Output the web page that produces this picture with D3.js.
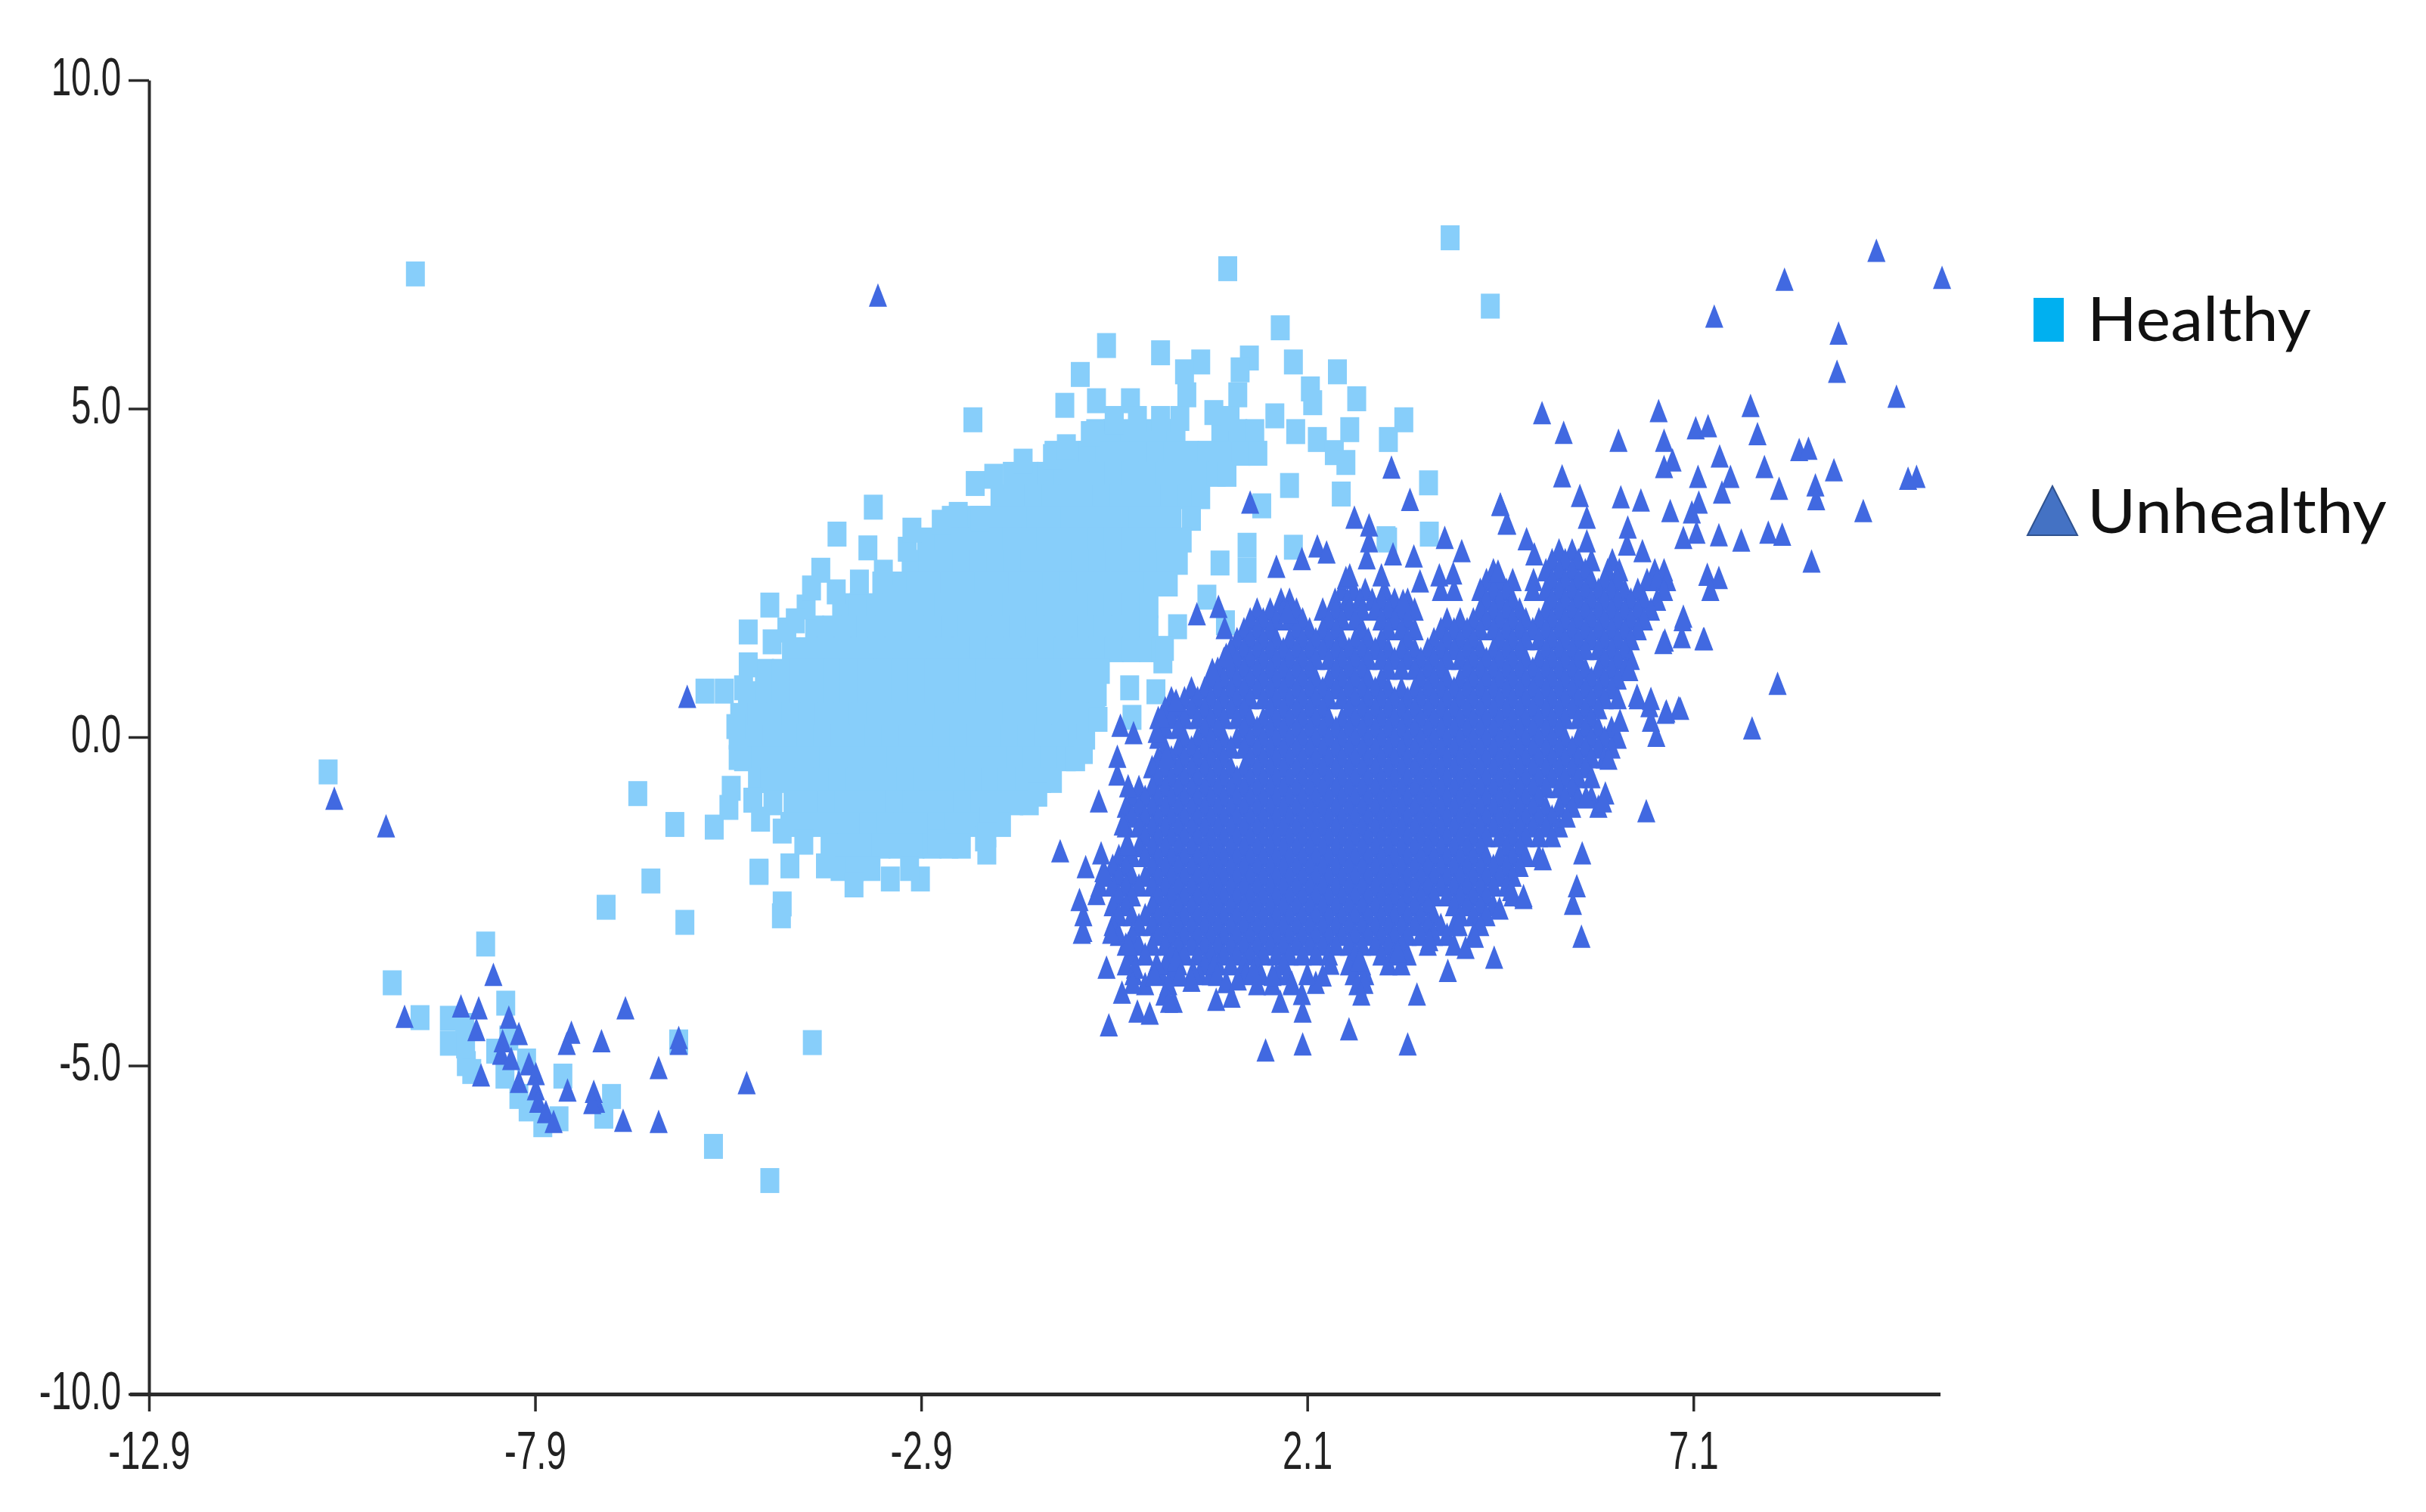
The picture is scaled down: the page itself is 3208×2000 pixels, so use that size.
<!DOCTYPE html>
<html>
<head>
<meta charset="utf-8">
<script src="https://cdn.jsdelivr.net/npm/d3@7"></script>
<style>
  html, body { margin: 0; background: #fff; }
</style>
</head>
<body>
<script>
// Axis ticks
const xTicks = [-12.9, -7.9, -2.9, 2.1, 7.1];
const yTicks = [-10, -5, 0, 5, 10];
const legendNames = ["Healthy", "Unhealthy"];

// Healthy, single squares that can be read on their own
const healthySingles = [
  [-9.45,7.05],[-10.58,-.53],[3.95,7.6],[1.07,7.13],[4.47,6.56],[-9.75,-3.74],[-8.54,-3.15],[-9.39,-4.27],
  [-4.31,-4.65],[-5.59,-6.23],[-4.86,-6.75],[-6.98,-2.59],[-6.4,-2.19],[-5.96,-2.82],[-6.57,-.86],[-6.09,-1.33],
  [-5.58,-1.37],[-5,-2.06],[-4.6,-1.96],[-4.71,-2.72],[-2.91,-2.16],[-6.04,-4.64],
  [1.75,6.23],[-.5,5.96],[.2,5.85],[.72,5.71],[1.35,5.77],[.51,5.56],[1.23,5.59],[1.92,5.71],[2.49,5.56],[-.84,5.52],
  [2.14,5.3],[2.74,5.15],[-1.04,5.05],[-.63,5.12],[-.19,5.12],[.54,5.21],[1.2,5.21],[.89,4.94],[1.68,4.89],[2.17,5.09],
  [3.35,4.83],[3.15,4.53],[2.65,4.68],[-2.23,4.83],[1.95,4.65],[2.23,4.53],[2.45,4.33],[2.6,4.18],[1.87,3.83],[2.54,3.7],
  [1.51,3.52],[3.67,3.87],[3.68,3.09],[3.14,3],[1.92,2.89],[.97,2.65],[1.32,2.92],[1.32,2.54],[.8,2.13],[1.04,1.74],[.42,1.68],
  [-3.52,3.5],[-3.99,3.09],[-3.59,2.88],[-4.2,2.54],[-4.32,2.27],[-4.86,2.01],[-4.53,1.77],[-5.14,1.6],[-5.7,.7],[-5.45,.7],
  [-5.14,1.1],[-5.36,-.78],[-5.39,-1.07],[-5,-2.04],[-4.7,-2.54],[-.17,.3],[.14,.69],[-.61,.27],[-.8,-.22],[-1.39,-.87],
  [-2.05,-1.49],[-2.7,-1.6],[.23,1.16],[-.4,4.85],[-.1,4.85],[.2,4.85],[.45,4.85],[1.1,4.85],[-2.05,-1.75],[-3.05,-2],
  [3.12,3.02],[.25,1.35],[-.2,.75]
];

// Healthy, squares along the outline of the body
const healthyEdge = [
  [-5.3,.16],[-5.27,-.31],[-5.08,-.96],[-4.98,-1.25],[-4.7,-1.43],[-4.42,-1.6],[-4.14,-1.96],[-3.77,-2.25],[-3.3,-2.16],
  [-2.08,-1.55],[-2.02,-1.25],[-5.2,.75],[-4.83,1.45],[-4.64,1.63],[-4.39,1.98],[-4,2.21],[-3.7,2.36],[-3.39,2.51],[-3.08,2.86],
  [-3.02,3.15],[-2.64,3.27],[-2.42,3.39],[-2.14,3.33],[-2.2,3.86],[-1.96,3.97],[-1.58,4.2],[-1.2,4.27],[-1.02,4.42],[-.71,4.62],[-.4,4.8]
];

// Healthy, the tail at the lower left
const healthyTail = [
  [-9.01,-4.28],[-9.01,-4.66],[-8.81,-4.39],[-8.8,-4.7],[-8.28,-4.05],[-8.79,-4.97],[-8.72,-5.09],[-8.41,-4.78],[-8.29,-5.16],
  [-7.54,-5.16],[-8.11,-5.47],[-7.99,-5.66],[-7.59,-5.81],[-6.91,-5.47],[-7.01,-5.77],[-8.01,-4.93],[-8.24,-4.58],[-7.8,-5.9]
];

// Healthy, the solid body: one row of x values per y value
const healthyRowY = [4.65,4.32,4,3.66,3.33,3,2.66,2.33,2,1.66,1.33,1,.66,.33,0,-.33,-.66,-1,-1.33,-1.66,-2];
const healthyRowX = [
  [-.64,-.42,-.2,.02,.24,.4,.98,1.2,1.42],
  [-1.18,-.96,-.74,-.52,-.3,-.08,.14,.36,.58,.8,1.02,1.24,1.46],
  [-1.72,-1.5,-1.28,-1.06,-.84,-.62,-.4,-.18,.04,.26,.48,.7,.92,1.06],
  [-1.88,-1.66,-1.44,-1.22,-1,-.78,-.56,-.34,-.12,.1,.32,.54,.72],
  [-2.51,-2.29,-2.07,-1.85,-1.63,-1.41,-1.19,-.97,-.75,-.53,-.31,-.09,.13,.35,.6],
  [-2.83,-2.61,-2.39,-2.17,-1.95,-1.73,-1.51,-1.29,-1.07,-.85,-.63,-.41,-.19,.03,.25,.48],
  [-3.03,-2.81,-2.59,-2.37,-2.15,-1.93,-1.71,-1.49,-1.27,-1.05,-.83,-.61,-.39,-.17,.05,.27,.43],
  [-3.41,-3.19,-2.97,-2.75,-2.53,-2.31,-2.09,-1.87,-1.65,-1.43,-1.21,-.99,-.77,-.55,-.33,-.11,.11,.3],
  [-3.93,-3.71,-3.49,-3.27,-3.05,-2.83,-2.61,-2.39,-2.17,-1.95,-1.73,-1.51,-1.29,-1.07,-.85,-.63,-.41,-.19,.05],
  [-4.28,-4.06,-3.84,-3.62,-3.4,-3.18,-2.96,-2.74,-2.52,-2.3,-2.08,-1.86,-1.64,-1.42,-1.2,-.98,-.76,-.54,-.32,-.1,.05],
  [-4.58,-4.36,-4.14,-3.92,-3.7,-3.48,-3.26,-3.04,-2.82,-2.6,-2.38,-2.16,-1.94,-1.72,-1.5,-1.28,-1.06,-.84,-.62,-.4,-.18,.04,.2],
  [-4.93,-4.71,-4.49,-4.27,-4.05,-3.83,-3.61,-3.39,-3.17,-2.95,-2.73,-2.51,-2.29,-2.07,-1.85,-1.63,-1.41,-1.19,-.97,-.75,-.58],
  [-5.15,-4.93,-4.71,-4.49,-4.27,-4.05,-3.83,-3.61,-3.39,-3.17,-2.95,-2.73,-2.51,-2.29,-2.07,-1.85,-1.63,-1.41,-1.19,-.97,-.75,-.62],
  [-5.25,-5.03,-4.81,-4.59,-4.37,-4.15,-3.93,-3.71,-3.49,-3.27,-3.05,-2.83,-2.61,-2.39,-2.17,-1.95,-1.73,-1.51,-1.29,-1.07,-.85,-.64],
  [-5.27,-5.05,-4.83,-4.61,-4.39,-4.17,-3.95,-3.73,-3.51,-3.29,-3.07,-2.85,-2.63,-2.41,-2.19,-1.97,-1.75,-1.53,-1.31,-1.09,-.87,-.77],
  [-5.2,-4.98,-4.76,-4.54,-4.32,-4.1,-3.88,-3.66,-3.44,-3.22,-3,-2.78,-2.56,-2.34,-2.12,-1.9,-1.68,-1.46,-1.24,-1.02,-.9],
  [-5.02,-4.86,-4.64,-4.42,-4.2,-3.98,-3.76,-3.54,-3.32,-3.1,-2.88,-2.66,-2.44,-2.22,-2,-1.78,-1.56,-1.34,-1.2],
  [-4.82,-4.56,-4.34,-4.12,-3.9,-3.68,-3.46,-3.24,-3.02,-2.8,-2.58,-2.36,-2.14,-1.92,-1.7,-1.5],
  [-4.6,-4.4,-4.24,-4.02,-3.8,-3.58,-3.36,-3.14,-2.92,-2.7,-2.48,-2.26,-2.04,-1.86],
  [-4.08,-3.86,-3.64,-3.42,-3.2,-2.98,-2.76,-2.54,-2.38],
  [-3.95,-3.76,-3.55]
];

// Unhealthy, single triangles that can be read on their own
const unhealthySingles = [
  [-3.46,6.73],[-10.5,-.93],[-9.83,-1.35],[-5.93,.62],
  [9.47,7.41],[10.32,7],[8.28,6.97],[7.37,6.41],[8.98,6.15],[8.96,5.57],[9.73,5.19],[5.14,4.94],[6.65,4.97],[7.84,5.05],
  [5.42,4.64],[6.13,4.52],[7.93,4.62],[7.13,4.71],[7.29,4.74],[6.72,4.52],[8.47,4.38],[8.59,4.4],[6.83,4.22],[6.72,4.12],
  [7.44,4.28],[8.02,4.12],[7.16,3.97],[7.58,3.97],[8.92,4.07],[5.4,3.98],[9.88,3.94],[9.99,3.97],[8.68,3.84],[8.69,3.63],
  [7.47,3.73],[8.21,3.79],[5.63,3.68],[6.16,3.66],[6.42,3.61],[9.3,3.45],[6.8,3.45],[7.17,3.58],[7.08,3.43],[5.72,3.35],
  [4.6,3.54],[4.69,3.26],[7.43,3.08],[7.72,3],[8.07,3.12],[8.25,3.09],[6.97,3.04],[7.14,3.12],[6.25,3.2],[3.88,3.04],
  [4.94,3.02],[5.72,2.99],[6.24,2.94],[4.1,2.84],[5.04,2.79],[6.44,2.84],[8.63,2.68],[7.28,2.48],[7.43,2.43],[7.32,2.25],
  [8.19,.82],[6.97,1.84],[6.95,1.53],[7.23,1.5],[6.73,1.48],[7.86,.14],[6.91,.45],[6.75,.4],[6.53,.48],[6.38,.6],
  [3.19,4.11],[3.43,3.62],[1.36,3.58],[4.6,3.55],[4.68,3.26],[2.71,3.35],[2.9,3.23],[2.9,2.99],[2.87,2.73],
  [1.7,2.6],[2.03,2.72],[2.23,2.91],[2.35,2.82],[3.21,2.79],[3.48,2.76],[3.06,2.47],[3.81,2.47],[3.99,2.5],[2.65,2.47],[3.56,2.38],
  [.67,1.88],[.95,1.99],[1.03,1.67],[1.05,1.26],[.87,1.03],[-.32,.18],[-.15,.07],[-.36,-.29],[-.36,-.56],[-.6,-.97],
  [-1.1,-1.73],[-.77,-1.97],[-.57,-1.76],[-.85,-2.47],[-.8,-2.94],[-.5,-3.5],[-.3,-3.88],[-.47,-4.38],[-.1,-4.17],[.06,-4.2],
  [.31,-4.02],[.92,-3.99],[1.12,-3.94],[1.75,-4.02],[2.04,-4.17],[2.64,-4.44],[1.56,-4.76],[2.04,-4.67],[3.4,-4.67],[3.52,-3.91],
  [2.8,-3.91],[3.92,-3.55],[4.52,-3.35],[5.65,-3.03],[5.59,-2.26],[5.54,-2.53],[5.66,-1.76],[6.49,-1.12],[5.93,-.97],[4.9,-2.41],
  [6.62,.03],[6.74,.38],[6.93,.44],[6.37,.64],[6.55,.59],[7.24,1.5],[6.96,1.79],[6.71,1.44]
];

// Unhealthy, triangles along the outline of the body
const unhealthyEdge = [
  [-.82,-2.97],[-.8,-2.7],[-.44,-2.97],[-.22,-3.14],[-.13,-3.5],[-.16,-3.73],[.15,-3.44],[.12,-3.61],[.25,-3.91],[.37,-4.02],
  [.4,-3.38],[.62,-3.55],[.9,-3.44],[.93,-3.61],[1.4,-3.55],[1.65,-3.61],[1.9,-3.73],[2.03,-3.9],[2.21,-3.73],[2.4,-3.44],
  [2.78,-3.38],[2.84,-3.73],[3.27,-3.26],[3.68,-3.08],[4.15,-3.2],[4.27,-3.03],[4.06,-2.85],[4.59,-2.6],[4.9,-2.44],[4.74,-2.32],
  [5.15,-1.85],[5.46,-1.2],[5.71,-.91],[5.96,-.85],[6,-.32],[6.15,.26],[6.27,1.03],[6.55,.26],
  [.21,.32],[.4,.56],[.15,.09],[.28,-.27],[-.22,-.74],[-.29,-1.32],[-.22,-1.62],[-.54,-2.03],[-.63,-2.38],
  [.45,-3.62],[.6,-3.7],[1.05,-3.72],[1.2,-3.68],[2.1,-3.6],[2.3,-3.62],[1.84,1.91],[2.6,2.43],[3.34,2.08],[4.57,2.53]
];

// Unhealthy, the tail at the lower left
const unhealthyTail = [
  [-8.44,-3.61],[-9.59,-4.25],[-8.86,-4.09],[-8.63,-4.12],[-8.24,-4.26],[-8.66,-4.45],[-8.11,-4.51],[-7.43,-4.49],[-7.49,-4.66],
  [-7.04,-4.62],[-6.73,-4.12],[-6.04,-4.57],[-6.04,-4.66],[-8.32,-4.62],[-8.34,-4.81],[-8.21,-4.89],[-7.98,-4.97],[-7.89,-5.12],
  [-8.6,-5.14],[-8.11,-5.24],[-7.89,-5.35],[-7.48,-5.37],[-7.14,-5.39],[-7.11,-5.54],[-7.16,-5.56],[-6.3,-5.03],[-5.16,-5.26],
  [-7.86,-5.54],[-7.76,-5.7],[-7.66,-5.85],[-6.76,-5.83],[-6.3,-5.85]
];

// Unhealthy, the solid body: one row of x values per y value
const unhealthyRowY = [2.85,2.7,2.55,2.4,2.25,2.1,1.95,1.8,1.65,1.5,1.35,1.2,1.05,.9,.75,.6,.45,.3,.15,0,-.15,-.3,-.45,-.6,-.75,-.9,-1.05,-1.2,-1.35,-1.5,-1.65,-1.8,-1.95,-2.1,-2.25,-2.4,-2.55,-2.7,-2.85,-3,-3.15,-3.3,-3.45,-3.6,-3.75];
const unhealthyRowX = [
  [5.36,5.53],
  [5.27,5.44,5.61,5.78,6.05],
  [4.51,5.19,5.36,5.53,5.7,5.99,6.14,6.6,6.72],
  [4.42,4.59,4.76,5.03,5.27,5.44,5.61,5.78,5.95,6.12,6.5,6.63,6.76],
  [2.55,2.7,2.85,3.1,3.83,4,4.34,4.51,4.68,5.02,5.19,5.36,5.53,5.7,5.87,6.04,6.21,6.38,6.72],
  [1.76,1.87,2.46,2.62,2.78,2.94,3.06,3.23,3.4,4.42,4.59,4.76,5.27,5.44,5.61,5.78,5.95,6.12,6.29,6.46,6.63],
  [1.45,1.62,1.79,1.96,2.3,2.47,2.64,2.81,2.98,3.15,3.32,3.49,4.34,4.51,4.68,4.85,5.19,5.36,5.53,5.7,5.87,6.04,6.21,6.38,6.55],
  [1.36,1.53,1.7,1.87,2.04,2.38,2.55,2.72,3.06,3.23,3.4,3.91,4.08,4.25,4.42,4.59,4.76,4.93,5.1,5.27,5.44,5.61,5.78,5.95,6.12,6.29,6.46],
  [1.28,1.45,1.62,1.96,2.13,2.3,2.47,2.81,3.15,3.32,3.49,3.83,4,4.17,4.34,4.51,4.68,4.85,5.02,5.19,5.36,5.53,5.7,5.87,6.04,6.21,6.38],
  [1.19,1.36,1.53,1.7,1.87,2.04,2.21,2.38,2.55,2.72,2.89,3.06,3.4,3.74,3.91,4.08,4.25,4.59,4.76,4.93,5.1,5.27,5.44,5.61,5.78,5.95,6.12,6.29],
  [1.11,1.28,1.45,1.62,1.79,1.96,2.13,2.3,2.47,2.64,2.81,2.98,3.15,3.32,3.49,3.66,3.83,4,4.17,4.34,4.51,4.68,4.85,5.19,5.36,5.53,5.7,5.87,6.04,6.21],
  [1.02,1.19,1.36,1.53,1.7,1.87,2.04,2.21,2.38,2.55,2.72,2.89,3.06,3.23,3.4,3.57,3.74,3.91,4.08,4.25,4.42,4.59,4.76,4.93,5.1,5.27,5.44,5.61,5.95,6.12,6.29],
  [.94,1.11,1.28,1.45,1.62,1.79,1.96,2.13,2.47,2.64,2.81,3.15,3.32,3.49,3.66,3.83,4.17,4.34,4.51,4.68,4.85,5.02,5.19,5.36,5.53,5.7,5.87,6.04,6.21],
  [.85,1.02,1.19,1.36,1.53,1.7,1.87,2.04,2.21,2.38,2.55,2.72,2.89,3.06,3.57,3.74,3.91,4.08,4.25,4.42,4.59,4.76,4.93,5.1,5.27,5.44,5.61,5.78,5.95,6.12],
  [.6,.77,.94,1.11,1.28,1.45,1.62,1.79,1.96,2.13,2.3,2.47,2.64,2.81,2.98,3.15,3.32,3.49,3.66,3.83,4,4.17,4.34,4.51,4.68,4.85,5.02,5.19,5.36,5.53,5.7,5.87,6.04],
  [.34,.51,.68,.85,1.02,1.19,1.36,1.53,1.7,1.87,2.04,2.21,2.38,2.55,2.72,2.89,3.06,3.23,3.4,3.57,3.74,3.91,4.08,4.25,4.42,4.59,4.76,4.93,5.1,5.27,5.44,5.61,5.78,5.95,6.12],
  [.26,.43,.6,.77,.94,1.11,1.28,1.62,1.79,1.96,2.13,2.3,2.64,2.81,2.98,3.15,3.32,3.49,3.66,3.83,4,4.17,4.34,4.51,4.68,4.85,5.02,5.19,5.36,5.53,5.7,5.87],
  [.17,.34,.51,.68,.85,1.02,1.19,1.36,1.53,1.7,1.87,2.04,2.21,2.38,2.55,2.72,2.89,3.06,3.23,3.4,3.57,3.74,3.91,4.08,4.25,4.42,4.59,4.76,4.93,5.1,5.27,5.44,5.61,5.78],
  [.26,.43,.77,.94,1.28,1.45,1.62,1.79,1.96,2.13,2.3,2.47,2.64,2.81,2.98,3.15,3.32,3.49,3.66,3.83,4,4.17,4.34,4.51,4.68,4.85,5.02,5.19,5.36,5.7,5.87,6.04],
  [.17,.51,.68,.85,1.02,1.19,1.36,1.53,1.7,1.87,2.04,2.21,2.38,2.55,2.72,2.89,3.06,3.23,3.4,3.57,3.74,3.91,4.08,4.25,4.42,4.59,4.76,4.93,5.1,5.27,5.44,5.61,5.78,5.95,6.12],
  [.26,.43,.6,.77,.94,1.11,1.28,1.45,1.62,1.79,1.96,2.13,2.3,2.47,2.64,2.81,2.98,3.15,3.32,3.49,3.66,3.83,4,4.17,4.34,4.51,4.68,4.85,5.02,5.19,5.36,5.53,5.7,5.87,6.04],
  [.17,.34,.51,.68,.85,1.02,1.36,1.53,1.7,1.87,2.04,2.21,2.38,2.55,2.72,2.89,3.06,3.23,3.4,3.57,3.74,3.91,4.08,4.25,4.42,4.59,4.76,4.93,5.1,5.27,5.44,5.61,5.78,5.95],
  [.09,.26,.43,.6,.77,.94,1.11,1.28,1.45,1.62,1.79,1.96,2.13,2.3,2.47,2.64,2.81,2.98,3.15,3.32,3.49,3.66,3.83,4,4.17,4.34,4.51,4.68,4.85,5.02,5.19,5.36,5.53,5.7],
  [.17,.34,.51,.68,.85,1.02,1.19,1.36,1.53,1.7,1.87,2.04,2.21,2.38,2.55,2.72,2.89,3.06,3.23,3.4,3.57,3.74,3.91,4.08,4.25,4.42,4.59,4.76,4.93,5.1,5.27,5.44,5.61,5.78],
  [-.08,.09,.26,.43,.6,.77,.94,1.11,1.28,1.45,1.62,1.79,1.96,2.13,2.3,2.47,2.64,2.81,2.98,3.15,3.32,3.49,3.66,3.83,4,4.17,4.34,4.51,4.68,4.85,5.02,5.19,5.36,5.53],
  [-.17,0,.17,.34,.51,.68,.85,1.02,1.19,1.36,1.53,1.7,1.87,2.04,2.21,2.38,2.55,2.72,2.89,3.06,3.23,3.4,3.57,3.74,3.91,4.08,4.25,4.42,4.59,4.76,4.93,5.1,5.44,5.61,5.78],
  [-.25,-.08,.09,.26,.43,.6,.77,.94,1.11,1.28,1.45,1.62,1.79,1.96,2.13,2.3,2.47,2.64,2.81,2.98,3.15,3.32,3.49,3.66,3.83,4,4.17,4.34,4.51,4.68,4.85,5.02,5.19,5.36,5.53,5.87],
  [-.17,0,.17,.34,.51,.68,.85,1.02,1.19,1.36,1.53,1.7,1.87,2.04,2.21,2.38,2.55,2.72,2.89,3.06,3.23,3.4,3.57,3.74,3.91,4.08,4.25,4.42,4.59,4.76,4.93,5.1,5.27],
  [-.25,-.08,.09,.26,.43,.6,.77,.94,1.11,1.28,1.45,1.62,1.79,1.96,2.13,2.3,2.47,2.64,2.81,2.98,3.15,3.32,3.49,3.66,3.83,4,4.17,4.34,4.51,4.68,4.85,5.02,5.19,5.36],
  [0,.17,.34,.51,.68,.85,1.02,1.19,1.36,1.53,1.7,1.87,2.04,2.21,2.38,2.55,2.72,2.89,3.06,3.23,3.4,3.57,3.74,3.91,4.08,4.25,4.42,4.59,4.76,4.93,5.1,5.27],
  [-.25,-.08,.09,.26,.43,.6,.77,.94,1.11,1.28,1.45,1.62,1.79,1.96,2.13,2.3,2.47,2.64,2.81,2.98,3.15,3.32,3.49,3.66,3.83,4,4.17,4.34,4.68,4.85],
  [-.34,-.17,0,.17,.34,.51,.68,.85,1.02,1.19,1.36,1.53,1.7,1.87,2.04,2.21,2.38,2.55,2.72,2.89,3.06,3.23,3.4,3.57,3.74,3.91,4.08,4.25,4.42,4.59,4.76,4.93,5.1],
  [-.42,-.25,.09,.26,.43,.6,.77,.94,1.11,1.28,1.45,1.62,1.79,1.96,2.13,2.3,2.47,2.64,2.81,2.98,3.15,3.32,3.49,3.66,3.83,4,4.17,4.34,4.51,4.68,4.85],
  [-.51,-.34,-.17,0,.17,.34,.51,.68,.85,1.02,1.19,1.36,1.53,1.7,1.87,2.04,2.21,2.38,2.55,2.72,2.89,3.06,3.23,3.4,3.57,3.74,3.91,4.08,4.25,4.42,4.59,4.76],
  [-.59,-.42,-.25,-.08,.09,.26,.43,.6,.77,.94,1.11,1.28,1.45,1.62,1.79,1.96,2.13,2.3,2.47,2.64,2.81,2.98,3.15,3.32,3.49,3.66,3.83,4,4.17,4.34,4.51,4.68],
  [-.34,-.17,.17,.34,.51,.68,.85,1.02,1.19,1.36,1.53,1.7,1.87,2.04,2.21,2.38,2.55,2.72,2.89,3.06,3.23,3.4,3.57,3.74,3.91,4.08,4.25,4.42,4.76],
  [-.42,-.25,.09,.26,.43,.6,.77,.94,1.11,1.28,1.45,1.62,1.79,1.96,2.13,2.3,2.47,2.64,2.81,2.98,3.15,3.32,3.49,3.66,4,4.17,4.34,4.51],
  [-.34,-.17,0,.17,.34,.51,.68,.85,1.02,1.19,1.36,1.53,1.7,1.87,2.04,2.21,2.38,2.55,2.72,2.89,3.06,3.23,3.4,3.57,3.74,4.08,4.25,4.42],
  [-.42,-.08,.09,.26,.43,.6,.77,.94,1.11,1.28,1.45,1.62,1.79,1.96,2.13,2.3,2.47,2.64,2.81,2.98,3.15,3.32,3.49,3.66,3.83,4,4.34],
  [-.34,-.17,.17,.34,.51,.68,.85,1.02,1.19,1.36,1.53,1.7,1.87,2.04,2.21,2.38,2.55,2.72,2.89,3.06,3.23,3.4,3.57,3.74,3.91,4.25],
  [-.25,-.08,.09,.26,.43,.6,.77,.94,1.11,1.28,1.45,1.62,1.79,1.96,2.13,2.3,2.47,2.64,2.81,2.98,3.15,3.32,3.66,4],
  [-.17,0,.34,.51,.68,.85,1.02,1.19,1.36,1.53,1.7,1.87,2.04,2.21,2.38,2.72,3.06,3.23,3.4],
  [-.25,.26,.43,.77,.94,1.11,1.28,1.45,1.79,2.64,2.81,3.15,3.32],
  [-.15,.1,.2,.35,.7,.85,1.3,1.5,1.7,1.85,2.7,2.85],
  [0,.3,1.45,1.65,1.9,2.75]
];

const healthyCore = healthyRowY.flatMap((y, i) => healthyRowX[i].map(x => [x, y]));
const unhealthyCore = unhealthyRowY.flatMap((y, i) => unhealthyRowX[i].map(x => [x, y]));
const healthy = [...healthyCore, ...healthyEdge, ...healthySingles, ...healthyTail];
const unhealthy = [...unhealthyCore, ...unhealthyEdge, ...unhealthySingles, ...unhealthyTail];

const width = 3208, height = 2000;

const svg = d3.select("body").append("svg")
    .attr("width", width)
    .attr("height", height)
    .style("display", "block")
    .style("background-color", "#fff");

const x = d3.scaleLinear().domain([-12.9, 10.3]).range([197, 2566]);
const y = d3.scaleLinear().domain([-10, 10]).range([1844, 106]);

// Marker shapes, slightly taller than wide like in the picture
const squareW = 25, squareH = 33;
const triW = 24, triH = 31;
const triPath = `M0,${-triH / 2}L${triW / 2},${triH / 2}L${-triW / 2},${triH / 2}Z`;

svg.append("g").selectAll("rect")
    .data(healthy)
    .join("rect")
    .attr("x", d => x(d[0]) - squareW / 2)
    .attr("y", d => y(d[1]) - squareH / 2)
    .attr("width", squareW)
    .attr("height", squareH)
    .style("fill", "#87CEFA");

svg.append("g").selectAll("path")
    .data(unhealthy)
    .join("path")
    .attr("d", triPath)
    .attr("transform", d => `translate(${x(d[0])},${y(d[1])})`)
    .style("fill", "#4169E1");

// Axes
const xAxis = svg.append("g")
    .attr("transform", `translate(0,${y(-10)})`)
    .call(d3.axisBottom(x).tickValues(xTicks).tickFormat(d => d.toFixed(1)).tickSize(23).tickSizeOuter(0));
const yAxis = svg.append("g")
    .attr("transform", `translate(${x(-12.9)},0)`)
    .call(d3.axisLeft(y).tickValues(yTicks).tickFormat(d => d.toFixed(1)).tickSize(27).tickSizeOuter(0));

for (const axis of [xAxis, yAxis]) {
  axis.selectAll("path, line").style("stroke", "#2b2b2b");
  axis.selectAll("line").style("stroke-width", 3.5);
  axis.select("path").style("stroke-width", 4);
  axis.selectAll("text")
      .style("font-family", "'Liberation Sans'")
      .style("font-size", "70px")
      .style("fill", "#222");
}
xAxis.select("path").style("stroke-width", 5).attr("d", `M${x(-12.9) - 25},0.5H${x(10.3)}`);

// The tick labels are squeezed horizontally in the reference
xAxis.selectAll("text").attr("y", 99).attr("dy", 0).attr("transform", "scale(.68,1)");
yAxis.selectAll("text").attr("x", -54).attr("dy", 0).attr("y", 19).attr("transform", "scale(.68,1)");

// Legend
const legend = svg.append("g").style("font-family", "Lato").style("font-size", "82px").style("fill", "#111");

legend.append("rect")
    .attr("x", 2689).attr("y", 394)
    .attr("width", 40).attr("height", 58)
    .style("fill", "#00B0F0");
legend.append("text")
    .attr("x", 2760).attr("y", 451)
    .attr("textLength", 296).attr("lengthAdjust", "spacingAndGlyphs")
    .text(legendNames[0]);

legend.append("path")
    .attr("d", "M2714,643L2747,708H2681Z")
    .style("fill", "#4472C4")
    .style("stroke", "#2F528F")
    .style("stroke-width", 2);
legend.append("text")
    .attr("x", 2760).attr("y", 705)
    .attr("textLength", 396).attr("lengthAdjust", "spacingAndGlyphs")
    .text(legendNames[1]);
</script>
</body>
</html>
